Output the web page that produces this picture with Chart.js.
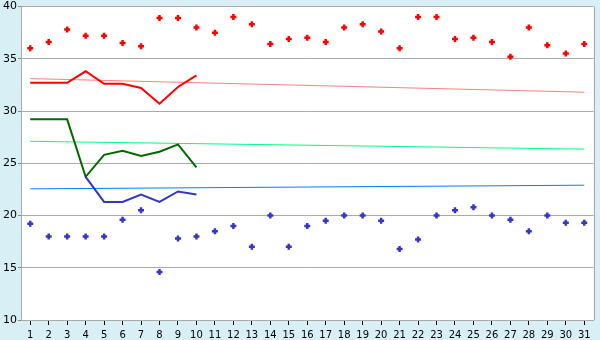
<!DOCTYPE html>
<html>
<head>
<meta charset="utf-8">
<script src="https://cdn.jsdelivr.net/npm/chart.js@4/dist/chart.umd.min.js"></script>
<style>
  html, body { margin: 0; padding: 0; background: #d9eff6; }
  #wrap { width: 600px; height: 340px; }
</style>
</head>
<body>
<div id="wrap"><canvas id="myChart" width="600" height="340"></canvas></div>
<script>
const days = ['1','2','3','4','5','6','7','8','9','10','11','12','13','14','15','16','17','18','19','20','21','22','23','24','25','26','27','28','29','30','31'];
const maxTemp = [36.0,36.6,37.8,37.2,37.2,36.5,36.2,38.9,38.9,38.0,37.5,39.0,38.3,36.4,36.9,37.0,36.6,38.0,38.3,37.6,36.0,39.0,39.0,36.9,37.0,36.6,35.2,38.0,36.3,35.5,36.4];
const minTemp = [19.2,18.0,18.0,18.0,18.0,19.6,20.5,14.6,17.8,18.0,18.5,19.0,17.0,20.0,17.0,19.0,19.5,20.0,20.0,19.5,16.8,17.7,20.0,20.5,20.8,20.0,19.6,18.5,20.0,19.3,19.3];
const redLine = [32.7,32.7,32.7,33.8,32.6,32.6,32.2,30.7,32.3,33.4];
const greenLine = [29.2,29.2,29.2,23.7,25.8,26.2,25.7,26.1,26.8,24.6];
const blueLine = [null,null,null,23.7,21.3,21.3,22.0,21.3,22.3,22.0];
// trend lines: value at day 1 and at day 31
const redTrend = [33.1, 31.8];
const greenTrend = [27.1, 26.35];
const blueTrend = [22.55, 22.9];
const yTicks = [10, 15, 20, 25, 30, 35, 40];

function trendData(ends) {
	let d = [];
	for (let i = 0; i < days.length; i++) d.push(null);
	d[0] = ends[0];
	d[days.length - 1] = ends[1];
	return d;
}

function dots(values, color) {
	return {
		data: values, showLine: false, pointStyle: 'cross',
		pointRadius: 3, pointBorderWidth: 2.5,
		borderColor: color, backgroundColor: color
	};
}

function line(values, color, width) {
	return {
		data: values, borderColor: color, borderWidth: width,
		pointRadius: 0, tension: 0, spanGaps: true, fill: false
	};
}

const bgPlugin = {
	id: 'bg',
	beforeDraw(chart) {
		const c = chart.ctx, a = chart.chartArea;
		c.save();
		c.fillStyle = '#d9eff6';
		c.fillRect(0, 0, chart.width, chart.height);
		c.fillStyle = '#ffffff';
		c.fillRect(a.left, a.top, a.right - a.left, a.bottom - a.top);
		c.restore();
	},
	afterDraw(chart) {
		const c = chart.ctx, a = chart.chartArea;
		c.save();
		c.strokeStyle = '#aaaaaa';
		c.lineWidth = 1;
		c.beginPath();
		c.moveTo(Math.round(a.right) + 0.5, a.top);
		c.lineTo(Math.round(a.right) + 0.5, a.bottom);
		c.stroke();
		c.restore();
	}
};

const config = {
	type: 'line',
	data: {
		labels: days,
		datasets: [
			dots(maxTemp, '#ff0000'),
			dots(minTemp, '#3535c8'),
			line(redLine, '#ff0000', 2),
			line(blueLine, '#3535c8', 2),
			line(greenLine, '#006a00', 2),
			line(trendData(redTrend), '#ff8080', 1),
			line(trendData(greenTrend), '#00ff80', 1),
			line(trendData(blueTrend), '#0080ff', 1)
		]
	},
	options: {
		responsive: false,
		animation: false,
		layout: { padding: { top: 5, right: 5, left: 0, bottom: 0 } },
		plugins: { legend: { display: false }, tooltip: { enabled: false } },
		scales: {
			x: {
				offset: true,
				grid: { drawOnChartArea: false, offset: false, tickLength: 5, tickColor: '#000000' },
				border: { color: '#aaaaaa' },
				ticks: { color: '#000000', padding: 4, maxRotation: 0, autoSkip: false,
					font: { family: 'DejaVu Sans', size: 10 } },
				afterFit: s => { s.height = 20; }
			},
			y: {
				min: 10, max: 40,
				afterBuildTicks: s => { s.ticks = yTicks.map(v => ({ value: v })); },
				grid: { color: '#aaaaaa', tickLength: 3, tickColor: '#888888' },
				border: { color: '#aaaaaa' },
				ticks: { color: '#000000', padding: 1,
					font: { family: 'DejaVu Sans', size: 11 } },
				afterFit: s => { s.width = 21; s.paddingTop = 0; s.paddingBottom = 0; }
			}
		}
	},
	plugins: [bgPlugin]
};

new Chart(document.getElementById('myChart').getContext('2d'), config);
</script>
</body>
</html>
